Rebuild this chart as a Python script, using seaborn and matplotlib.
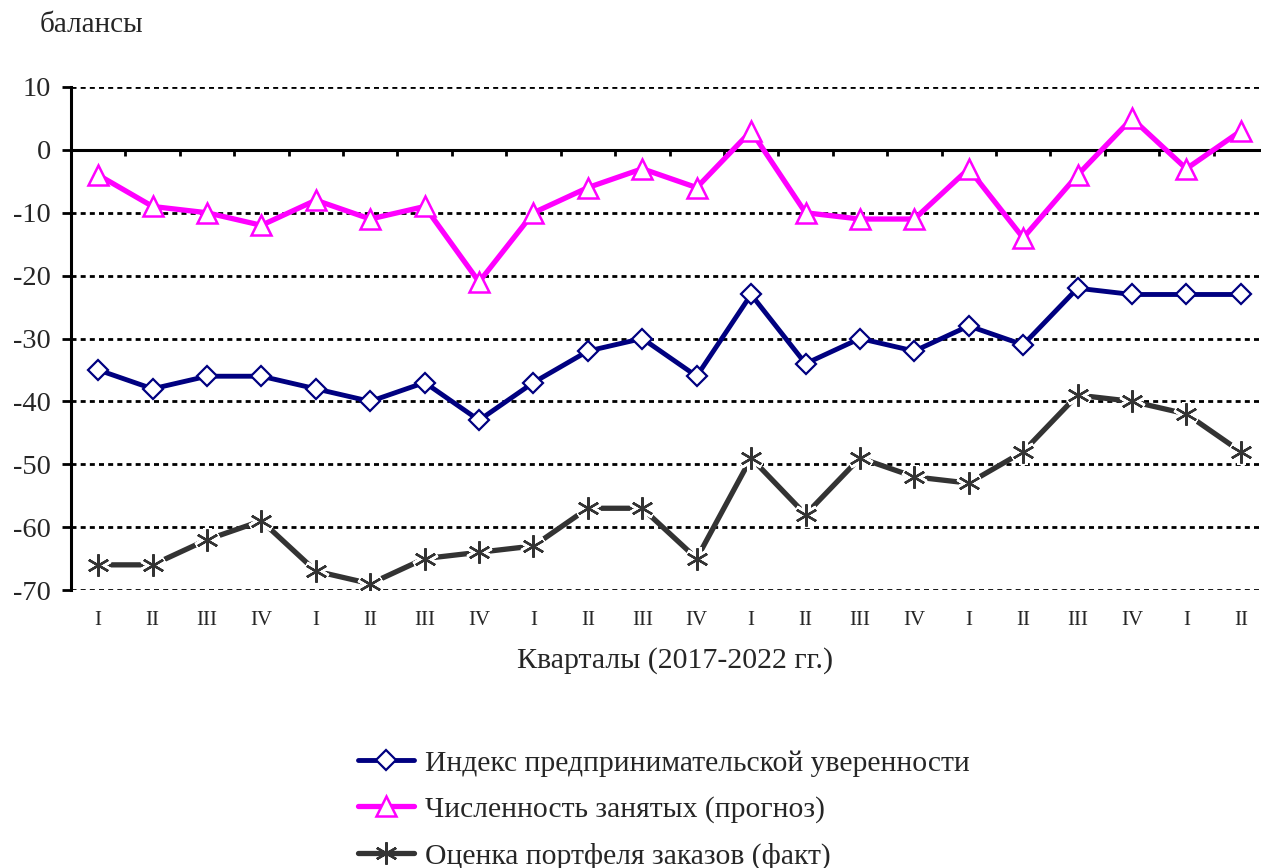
import numpy as np
import pandas as pd
import matplotlib
matplotlib.use("Agg")
import matplotlib.pyplot as plt
import matplotlib.transforms as mtransforms
import seaborn as sns

# Data
quarters = ["I", "II", "III", "IV", "I", "II", "III", "IV", "I", "II", "III", "IV",
            "I", "II", "III", "IV", "I", "II", "III", "IV", "I", "II"]
confidence = [-35, -38, -36, -36, -38, -40, -37, -43, -37, -32, -30, -36,
              -23, -34, -30, -32, -28, -31, -22, -23, -23, -23]
employment = [-4, -9, -10, -12, -8, -11, -9, -21, -10, -6, -3, -6,
              3, -10, -11, -11, -3, -14, -4, 5, -3, 3]
orders = [-66, -66, -62, -59, -67, -69, -65, -64, -63, -57, -57, -65,
          -49, -58, -49, -52, -53, -48, -39, -40, -42, -48]
labels = ["Индекс предпринимательской уверенности",
          "Численность занятых (прогноз)",
          "Оценка портфеля заказов (факт)"]
yticks = [10, 0, -10, -20, -30, -40, -50, -60, -70]

sns.set_theme(style="white")
plt.rcParams["font.family"] = ["Liberation Serif", "DejaVu Serif"]

pos = np.arange(len(quarters))
df = pd.DataFrame({"pos": pos, "conf": confidence, "empl": employment, "orders": orders})

fig = plt.figure(figsize=(12.61, 8.68), dpi=100)
ax = fig.add_axes([71 / 1261, 1 - 590 / 868, 1197 / 1261, 503 / 868])

# dotted grid
for v in yticks:
    if v != 0:
        ax.axhline(v, color="black", lw=2.0, ls=(0, (1.8, 1.5)), zorder=1)

sns.lineplot(data=df, x="pos", y="conf", ax=ax, color="#000080", lw=3.5,
             marker="D", ms=10, mfc="white", mec="#000080", mew=1.6,
             label=labels[0], zorder=4)
sns.lineplot(data=df, x="pos", y="empl", ax=ax, color="#FF00FF", lw=3.8,
             marker="^", ms=15, mfc="white", mec="#FF00FF", mew=1.8,
             label=labels[1], zorder=4)
sns.lineplot(data=df, x="pos", y="orders", ax=ax, color="#333333", lw=3.8,
             marker=(6, 2, 0), ms=16, mec="#333333", mew=1.7,
             label=labels[2], zorder=3)
# white halo behind the star markers
ax.plot(df["pos"], df["orders"], ls="none", marker=(6, 2, 0), ms=18,
        mec="white", mew=6, zorder=3.5)
ax.plot(df["pos"], df["orders"], ls="none", marker=(6, 2, 0), ms=16,
        mec="#333333", mew=1.7, zorder=3.6)

ax.set_xlim(-0.5, len(quarters) - 0.5)
ax.set_ylim(-70, 10)
ax.set_yticks(yticks)
ax.set_yticklabels([str(v) for v in yticks])
ax.tick_params(axis="y", direction="out", length=6.5, width=2.0, color="black",
               labelsize=20.5, pad=8, left=True)

# x axis sits at zero, ticks between categories
ax.spines["top"].set_visible(False)
ax.spines["right"].set_visible(False)
ax.spines["bottom"].set_position(("data", 0))
for s in ["left", "bottom"]:
    ax.spines[s].set_color("black")
    ax.spines[s].set_linewidth(2.2)
ax.set_xticks(np.arange(-0.5, len(quarters), 1.0))
ax.set_xticklabels([])
ax.tick_params(axis="x", direction="out", length=4, width=2.0, color="black", bottom=True)

trans = mtransforms.blended_transform_factory(ax.transData, ax.transAxes)
for p, q in zip(pos, quarters):
    ax.text(p, -0.06, q, transform=trans, ha="center", va="center", fontsize=15)

ax.set_xlabel("")
ax.set_ylabel("")
fig.text(675 / 1261, 1 - 661 / 868, "Кварталы (2017-2022 гг.)", ha="center",
         va="center", fontsize=21.5)
fig.text(40 / 1261, 1 - 25 / 868, "балансы", ha="left", va="center", fontsize=21)

handles, labs = ax.get_legend_handles_labels()
ax.legend_.remove()
fig.legend(handles, labs, loc="upper left", bbox_to_anchor=(358 / 1261, 1 - 750 / 868),
           frameon=False, fontsize=21.3, handlelength=1.9, handletextpad=0.35,
           labelspacing=0.65, borderaxespad=0, borderpad=0)

plt.savefig("out.png", dpi=100)
plt.close()
